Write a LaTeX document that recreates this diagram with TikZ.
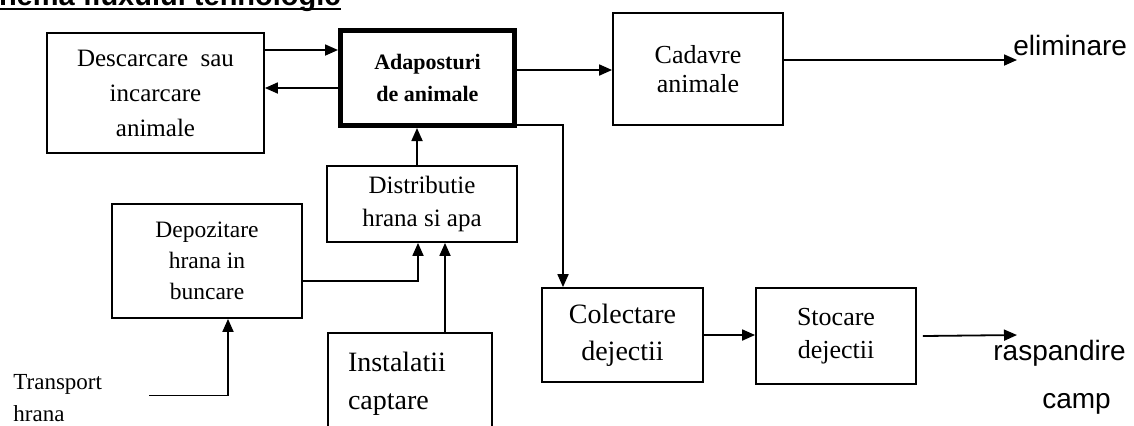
\documentclass[tikz,border=0pt]{standalone}
\usepackage{fontspec}
\setmainfont{Liberation Serif}
\newfontfamily\labelfont{Liberation Sans}
\usetikzlibrary{arrows.meta}

\begin{document}
\begin{tikzpicture}[
    x=0.5pt, y=-0.5pt,
    box/.style={rectangle, draw, align=center, line width=0.9pt, inner sep=0pt},
    mainbox/.style={box, line width=2.5pt, font=\bfseries\fontsize{11}{16}\selectfont},
    outtext/.style={inner sep=0pt, align=center, font=\labelfont\fontsize{14}{24}\selectfont},
    arrow/.style={-{Triangle[length=6.5pt, width=5.5pt]}, line width=0.9pt}
]
\useasboundingbox (0,0) rectangle (1134,425);
\clip (0,0) rectangle (1134,425);

% Title, cut by the top edge
\node[anchor=base east, inner sep=0pt, font=\labelfont\bfseries\fontsize{14.5}{17}\selectfont] (title) at (341,5) {Schema fluxului tehnologic};
\draw[line width=1pt] ([yshift=-1.75pt]title.base west) -- ([yshift=-1.75pt]title.base east);

\node[box, minimum width=108.5pt, minimum height=60pt, font=\fontsize{12.5}{17.5}\selectfont] (desc) at (155.5,93) {Descarcare\ \ sau\\incarcare\\animale};
\node[mainbox, minimum width=87pt, minimum height=47.5pt] (adap) at (427.5,78) {Adaposturi\\de animale};
\node[box, minimum width=85pt, minimum height=56pt, font=\fontsize{13}{14.5}\selectfont] (cad) at (698,69) {Cadavre\\animale};

\node[box, minimum width=95pt, minimum height=38pt, font=\fontsize{12.5}{16.5}\selectfont] (dist) at (422,204) {Distributie\\hrana si apa};
\node[box, minimum width=95pt, minimum height=57pt, font=\fontsize{11.75}{15.5}\selectfont] (depo) at (207,261) {Depozitare\\hrana in\\buncare};
\node[box, align=left, text width=62pt, inner xsep=10pt, minimum height=51pt, font=\fontsize{14}{19}\selectfont] (inst) at (410,384) {Instalatii\\captare};

\node[box, minimum width=80.5pt, minimum height=47pt, font=\fontsize{14}{18.5}\selectfont] (col) at (622.5,335) {Colectare\\dejectii};
\node[box, minimum width=80pt, minimum height=48pt, font=\fontsize{13}{16.5}\selectfont] (stoc) at (836,336) {Stocare\\dejectii};

\node[anchor=north west, inner sep=0pt, align=left, font=\fontsize{11.5}{16}\selectfont] (trans) at (13,374) {Transport\\hrana};
\node[outtext, anchor=base west] (elim) at (1013,55) {eliminare};
\node[outtext, anchor=north west] (rasp) at (993,340) {raspandire\\\hspace*{17pt}camp};

% Edges
\draw[arrow] ([yshift=21.5pt]desc.east) -- ([yshift=14pt]adap.west);
\draw[arrow] ([yshift=-5pt]adap.west) -- ([yshift=2.5pt]desc.east);
\draw[arrow] ([xshift=-2.5pt]dist.north) -- ([xshift=-5.25pt]adap.south);
\draw[arrow] ([yshift=4pt]adap.east) -- ([yshift=-0.5pt]cad.west);
\draw[arrow] ([yshift=4.5pt]cad.east) -- ([xshift=2pt,yshift=-2.5pt]elim.base west);

\draw[arrow] ([yshift=-23.5pt]adap.east) -| ([xshift=-29.75pt]col.north);
\draw[arrow] (col.east) -- (col.east -| stoc.west);
\draw[arrow] ([xshift=3pt]stoc.east) -- ([xshift=12pt,yshift=2.5pt]rasp.north west);

\draw[arrow] ([yshift=-10pt]depo.east) -| ([xshift=-2pt]dist.south);
\draw[arrow] ([xshift=17.5pt]inst.north) -- ([xshift=11.5pt]dist.south);
\draw[arrow] ([xshift=23.5pt,yshift=1.25pt]trans.east) -| ([xshift=10.5pt]depo.south);

\end{tikzpicture}
\end{document}
